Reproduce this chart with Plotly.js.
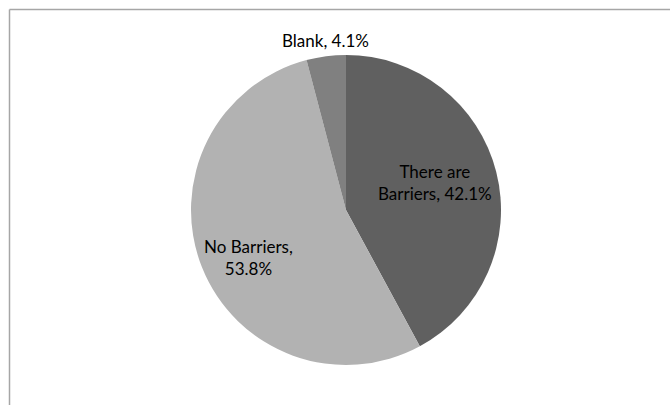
<!DOCTYPE html>
<html>
<head>
<meta charset="utf-8">
<script src="https://cdn.plot.ly/plotly-3.0.1.min.js"></script>
<style>
  html, body { margin: 0; padding: 0; background: #ffffff; }
  #chart { width: 670px; height: 405px; }
</style>
</head>
<body>
<div id="chart"></div>
<script>
// Survey responses: are there barriers?
const categories = ["There are Barriers", "No Barriers", "Blank"];
const shares = [42.1, 53.8, 4.1];
const sliceColors = ["#606060", "#b2b2b2", "#808080"];

const W = 670, H = 405;
const cx = 346, cy = 210, R = 155;

// label text lines for each slice, built from the data
const labelLines = [
  [categories[0].split(" ").slice(0, 2).join(" "), categories[0].split(" ").slice(2).join(" ") + ", " + shares[0].toFixed(1) + "%"],
  [categories[1] + ",", shares[1].toFixed(1) + "%"],
  [categories[2] + ", " + shares[2].toFixed(1) + "%"]
];
// label centres in page pixels
const labelPos = [[435, 182], [248, 257], [325, 40]];

const trace = {
  type: "pie",
  labels: categories,
  values: shares,
  sort: false,
  direction: "clockwise",
  rotation: 0,
  marker: { colors: sliceColors, line: { width: 0 } },
  textinfo: "none",
  hoverinfo: "label+percent",
  domain: {
    x: [(cx - R) / W, (cx + R) / W],
    y: [(H - cy - R) / H, (H - cy + R) / H]
  }
};

const font = { family: "Lato, 'Open Sans', sans-serif", size: 17, color: "#000000" };

const annotations = labelLines.map((lines, i) => ({
  xref: "paper", yref: "paper",
  x: labelPos[i][0] / W, y: 1 - labelPos[i][1] / H,
  xanchor: "center", yanchor: "middle",
  text: lines.join("<br>"),
  showarrow: false,
  align: "center",
  font: font
}));

// chart frame (top and left edges visible)
const frameColor = "#a6a6a6";
const shapes = [
  { type: "line", xref: "paper", yref: "paper", x0: 9.5 / W, x1: 1, y0: 1 - 9.5 / H, y1: 1 - 9.5 / H, line: { color: frameColor, width: 1.5 } },
  { type: "line", xref: "paper", yref: "paper", x0: 9.5 / W, x1: 9.5 / W, y0: 0, y1: 1 - 9.5 / H, line: { color: frameColor, width: 1.5 } }
];

const layout = {
  width: W, height: H,
  margin: { l: 0, r: 0, t: 0, b: 0 },
  paper_bgcolor: "#ffffff",
  showlegend: false,
  annotations: annotations,
  shapes: shapes
};

Plotly.newPlot("chart", [trace], layout, { displayModeBar: false, staticPlot: true });
</script>
</body>
</html>
